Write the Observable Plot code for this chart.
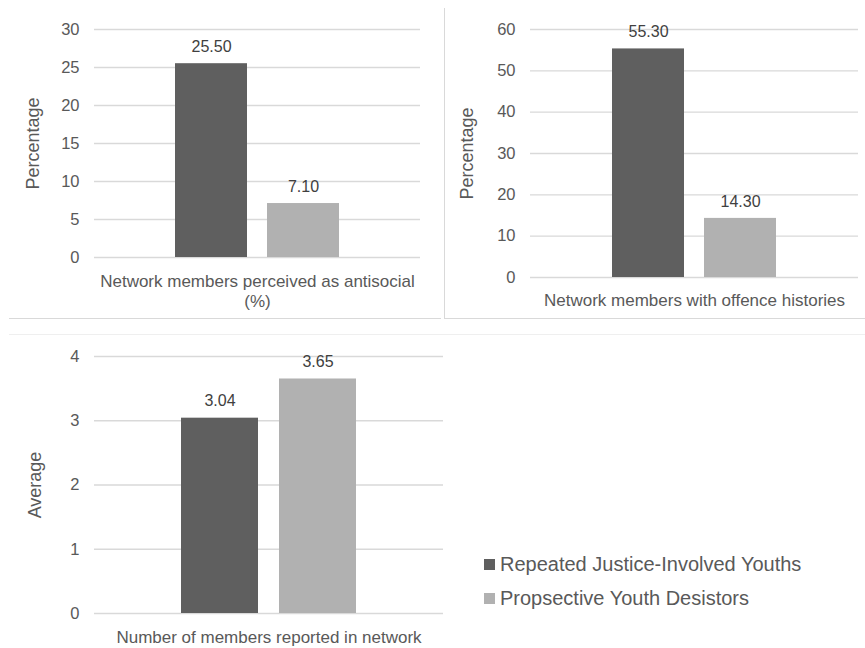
<!DOCTYPE html>
<html><head><meta charset="utf-8">
<script src="https://cdn.jsdelivr.net/npm/d3@7"></script>
<script src="https://cdn.jsdelivr.net/npm/@observablehq/plot@0.6"></script>
<style>
body{margin:0;background:#fff;font-family:"Liberation Sans",Arial,sans-serif;}
#root{position:relative;width:865px;height:648px;overflow:hidden;background:#fff;}
.panel{position:absolute;}
.line{position:absolute;}
.legend{position:absolute;left:484px;top:547px;color:#595959;font-size:20px;line-height:34px;}
.legend .item{display:flex;align-items:center;white-space:nowrap;}
.legend .sw{width:11px;height:11px;margin-right:5px;display:inline-block;}
</style></head><body><div id="root"></div>
<script>
// Series (groups) and colours
const groups = ["Repeated Justice-Involved Youths", "Propsective Youth Desistors"];
const groupColors = ["#5f5f5f", "#b1b1b1"];

// Panel 1
const category1 = "Network members perceived as antisocial\n(%)";
const values1 = [25.50, 7.10];
const ticks1 = [0, 5, 10, 15, 20, 25, 30];
const yLabel1 = "Percentage";

// Panel 2
const category2 = "Network members with offence histories";
const values2 = [55.30, 14.30];
const ticks2 = [0, 10, 20, 30, 40, 50, 60];
const yLabel2 = "Percentage";

// Panel 3
const category3 = "Number of members reported in network";
const values3 = [3.04, 3.65];
const ticks3 = [0, 1, 2, 3, 4];
const yLabel3 = "Average";

const root = document.getElementById("root");

function panel(opts) {
  const data = groups.map((g, i) => ({group: g, value: opts.values[i]}));
  const chart = Plot.plot({
    width: opts.width, height: opts.height,
    marginLeft: opts.ml, marginRight: opts.mr, marginTop: opts.mt, marginBottom: opts.mb,
    style: {fontFamily: "'Liberation Sans', Arial, sans-serif", fontSize: "16px", color: "#595959", background: "transparent", overflow: "visible"},
    x: {domain: groups, range: opts.xRange, paddingInner: opts.pad, paddingOuter: 0, axis: null},
    y: {domain: [opts.ticks[0], opts.ticks[opts.ticks.length - 1]], ticks: opts.ticks, tickSize: 0, tickPadding: 15,
        tickFormat: d => String(d),
        label: opts.yLabel, labelAnchor: "center", labelArrow: "none", labelOffset: opts.labelOffset},
    color: {domain: groups, range: groupColors},
    marks: [
      Plot.gridY(opts.ticks, {stroke: "#d9d9d9", strokeOpacity: 1, strokeWidth: 1.4}),
      Plot.barY(data, {x: "group", y: "value", fill: "group"}),
      Plot.text(data, {x: "group", y: "value", text: d => d.value.toFixed(2), dy: -17, lineAnchor: "middle", fill: "#404040", fontSize: 16}),
      Plot.text([opts.category], {frameAnchor: "bottom", text: d => d, lineAnchor: "top", dy: opts.catDy, fontSize: 17, lineHeight: 1.18, fill: "#595959"})
    ]
  });
  chart.querySelectorAll("[aria-label='y-axis tick label']").forEach(n => n.style.fontSize = "16.5px");
  chart.querySelectorAll("[aria-label='y-axis label']").forEach(n => n.style.fontSize = "18px");
  const div = document.createElement("div");
  div.className = "panel";
  div.style.left = opts.left + "px";
  div.style.top = opts.top + "px";
  div.appendChild(chart);
  root.appendChild(div);
}

function line(x, y, w, h, c) {
  const d = document.createElement("div");
  d.className = "line";
  Object.assign(d.style, {left: x + "px", top: y + "px", width: w + "px", height: h + "px", background: c});
  root.appendChild(d);
}

// panel borders
line(9, 318, 432, 1, "#d9d9d9");
line(444, 8, 1, 310, "#d9d9d9");
line(444, 318, 421, 1, "#d9d9d9");
line(9, 334, 856, 1, "#efefef");

panel({values: values1, category: category1, ticks: ticks1, yLabel: yLabel1,
  left: 0, top: 0, width: 430, height: 320, ml: 94, mr: 10, mt: 29, mb: 63,
  xRange: [174, 340], pad: 0.215, labelOffset: 68, catDy: 15});
panel({values: values2, category: category2, ticks: ticks2, yLabel: yLabel2,
  left: 435, top: 0, width: 430, height: 320, ml: 95, mr: 7, mt: 29, mb: 43,
  xRange: [176, 342], pad: 0.215, labelOffset: 70, catDy: 14});
panel({values: values3, category: category3, ticks: ticks3, yLabel: yLabel3,
  left: 0, top: 330, width: 445, height: 318, ml: 94, mr: 2, mt: 26, mb: 35,
  xRange: [180, 357], pad: 0.212, labelOffset: 66, catDy: 15});

// legend
const leg = document.createElement("div");
leg.className = "legend";
groups.forEach((g, i) => {
  const it = document.createElement("div");
  it.className = "item";
  const sw = document.createElement("span");
  sw.className = "sw";
  sw.style.background = groupColors[i];
  it.appendChild(sw);
  it.appendChild(document.createTextNode(g));
  leg.appendChild(it);
});
root.appendChild(leg);
</script>
</body></html>
